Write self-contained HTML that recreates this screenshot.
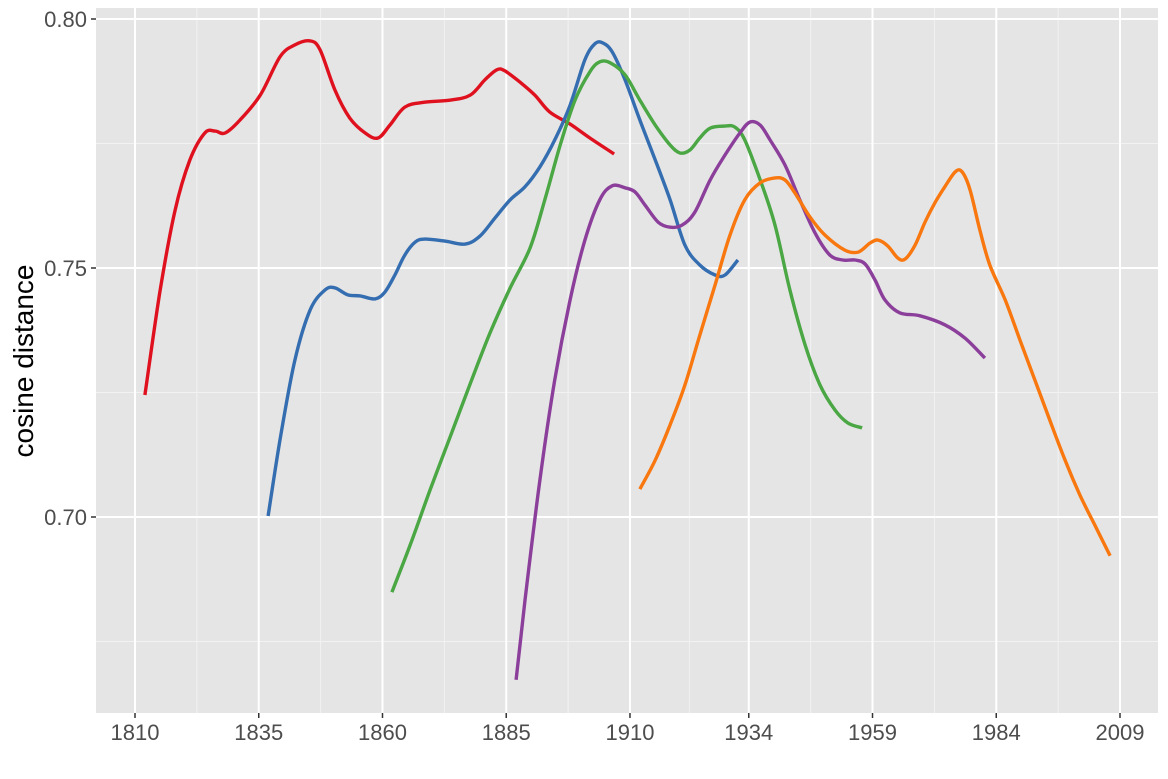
<!DOCTYPE html>
<html><head><meta charset="utf-8">
<style>
html,body{margin:0;padding:0;background:#fff;}
svg{display:block;font-family:"Liberation Sans",sans-serif;}
</style></head>
<body>
<svg id="chart" width="1168" height="779" xmlns="http://www.w3.org/2000/svg">
<rect x="96" y="8" width="1062" height="705" fill="#e5e5e5"/>
<g id="grid"></g>
<g id="series"></g>
<g id="axes"></g>
<text transform="translate(33,361) rotate(-90)" text-anchor="middle" font-size="28" fill="#000">cosine distance</text>
</svg>
<script>
const xTicks = [1810,1835,1860,1885,1910,1934,1959,1984,2009];
const yTicks = [0.70,0.75,0.80];
const yTickLabels = ["0.70","0.75","0.80"];
const yMinor = [0.675,0.725,0.775];
const redYears = [1812.0,1815.1,1818.1,1821.1,1824.1,1826.2,1828.2,1831.2,1835.3,1839.3,1842.3,1845.4,1847.4,1850.4,1853.4,1856.5,1859.1,1861.5,1864.5,1868.5,1873.6,1877.7,1880.7,1883.1,1884.7,1887.8,1890.8,1893.8,1897.9,1901.9,1906.8];
const redValues = [0.7245,0.7456,0.7616,0.7717,0.7771,0.7775,0.7771,0.7797,0.7847,0.7924,0.7948,0.7956,0.7938,0.7857,0.7801,0.7771,0.7761,0.7787,0.7823,0.7833,0.7837,0.7847,0.7878,0.7898,0.7896,0.7873,0.7847,0.7813,0.7789,0.7761,0.7729];
const blueYears = [1836.9,1839.3,1842.3,1845.4,1848.4,1850.4,1853.0,1855.5,1858.5,1860.5,1862.5,1864.5,1866.6,1868.6,1872.6,1876.7,1879.7,1882.7,1885.8,1888.8,1891.8,1894.8,1897.9,1900.9,1902.9,1904.5,1906.4,1909.0,1912.0,1915.1,1918.1,1921.1,1924.1,1927.2,1929.2,1931.8];
const blueValues = [0.7002,0.7155,0.7315,0.7416,0.7456,0.7460,0.7446,0.7444,0.7438,0.7452,0.7486,0.7526,0.7552,0.7558,0.7554,0.7548,0.7564,0.7600,0.7637,0.7663,0.7703,0.7757,0.7827,0.7918,0.7950,0.7952,0.7934,0.7878,0.7797,0.7717,0.7637,0.7546,0.7506,0.7486,0.7486,0.7516];
const greenYears = [1861.9,1865.6,1869.6,1873.6,1877.7,1881.7,1885.8,1889.8,1892.8,1895.9,1898.9,1901.9,1903.9,1906.0,1909.0,1912.0,1915.1,1918.1,1920.1,1922.1,1924.1,1926.2,1929.2,1931.2,1933.2,1936.3,1939.3,1942.3,1945.4,1948.4,1951.4,1954.0,1956.9];
const greenValues = [0.6849,0.6944,0.7054,0.7159,0.7267,0.7369,0.7460,0.7540,0.7637,0.7747,0.7837,0.7894,0.7914,0.7912,0.7888,0.7837,0.7787,0.7747,0.7731,0.7737,0.7761,0.7781,0.7785,0.7783,0.7757,0.7677,0.7586,0.7456,0.7345,0.7265,0.7215,0.7189,0.7179];
const purpleYears = [1887.0,1888.8,1891.8,1894.8,1897.9,1900.9,1903.9,1906.4,1909.0,1911.0,1913.0,1915.7,1918.1,1920.5,1923.1,1926.2,1929.2,1932.2,1934.2,1936.3,1938.3,1941.3,1944.3,1947.4,1950.4,1953.0,1955.5,1957.5,1959.5,1961.5,1964.5,1968.6,1973.6,1977.7,1981.7];
const purpleValues = [0.6673,0.6833,0.7074,0.7275,0.7436,0.7556,0.7637,0.7665,0.7661,0.7653,0.7627,0.7592,0.7582,0.7586,0.7612,0.7677,0.7727,0.7771,0.7793,0.7787,0.7757,0.7707,0.7637,0.7570,0.7526,0.7516,0.7516,0.7508,0.7476,0.7436,0.7410,0.7404,0.7386,0.7359,0.7319];
const orangeYears = [1912.0,1915.1,1918.1,1921.1,1924.1,1927.2,1930.2,1933.2,1936.3,1939.3,1941.3,1943.3,1946.4,1949.4,1953.4,1956.1,1958.5,1960.1,1962.1,1964.1,1965.6,1967.6,1969.6,1971.6,1973.6,1975.7,1977.1,1978.7,1980.7,1982.7,1985.8,1988.8,1991.8,1994.8,1997.9,2000.9,2003.9,2007.0];
const orangeValues = [0.7056,0.7114,0.7185,0.7265,0.7365,0.7466,0.7566,0.7637,0.7671,0.7681,0.7677,0.7651,0.7602,0.7566,0.7536,0.7532,0.7550,0.7556,0.7544,0.7520,0.7518,0.7546,0.7592,0.7631,0.7663,0.7693,0.7693,0.7657,0.7576,0.7506,0.7436,0.7355,0.7275,0.7195,0.7114,0.7044,0.6984,0.6922];

const NS="http://www.w3.org/2000/svg";
const L=96,R=1158,T=8,B=713;
function xs(yr){return 135+(yr-1810)*(1120-135)/199;}
function ys(v){return 19+(0.80-v)*4980;}
function mk(tag,attrs,parent){const e=document.createElementNS(NS,tag);for(const k in attrs)e.setAttribute(k,attrs[k]);parent.appendChild(e);return e;}
const grid=document.getElementById('grid'),axes=document.getElementById('axes'),ser=document.getElementById('series');
for(let i=0;i<xTicks.length-1;i++){
  const x=(xs(xTicks[i])+xs(xTicks[i+1]))/2;
  const g=mk('line',{x1:x,x2:x,y1:T,y2:B,stroke:'#f2f2f2','stroke-width':1},grid);
  
  
}
yMinor.forEach(v=>{
  const g=mk('line',{x1:L,x2:R,y1:ys(v),y2:ys(v),stroke:'#f2f2f2','stroke-width':1},grid);
  
  
});
xTicks.forEach(t=>{
  const x=xs(t);
  const g=mk('line',{x1:x,x2:x,y1:T,y2:B,stroke:'#fff','stroke-width':2},grid);
  
  
  const tk=mk('line',{x1:x,x2:x,y1:B,y2:B+5,stroke:'#333','stroke-width':1.5},axes);
  
  
  const lb=mk('text',{x:x,y:B+27,'text-anchor':'middle','font-size':22,fill:'#4d4d4d'},axes);
  lb.textContent=t;
  
  
});
yTicks.forEach((v,i)=>{
  const y=ys(v);
  const g=mk('line',{x1:L,x2:R,y1:y,y2:y,stroke:'#fff','stroke-width':2},grid);
  
  
  const tk=mk('line',{x1:L-5,x2:L,y1:y,y2:y,stroke:'#333','stroke-width':1.5},axes);
  
  
  const lb=mk('text',{x:L-9,y:y+8,'text-anchor':'end','font-size':22,fill:'#4d4d4d'},axes);
  lb.textContent=yTickLabels[i];
  
  
});
function smooth(px){
  let d='M'+px[0][0].toFixed(1)+','+px[0][1].toFixed(1);
  for(let i=0;i<px.length-1;i++){
    const p0=px[Math.max(0,i-1)],p1=px[i],p2=px[i+1],p3=px[Math.min(px.length-1,i+2)];
    const c1=[p1[0]+(p2[0]-p0[0])/6,p1[1]+(p2[1]-p0[1])/6];
    const c2=[p2[0]-(p3[0]-p1[0])/6,p2[1]-(p3[1]-p1[1])/6];
    d+=' C'+c1[0].toFixed(1)+','+c1[1].toFixed(1)+' '+c2[0].toFixed(1)+','+c2[1].toFixed(1)+' '+p2[0].toFixed(1)+','+p2[1].toFixed(1);
  }
  return d;
}
const seriesList=[
  ['red',redYears,redValues,'#e0111f'],
  ['blue',blueYears,blueValues,'#346db0'],
  ['green',greenYears,greenValues,'#4aa744'],
  ['purple',purpleYears,purpleValues,'#8b3f9b'],
  ['orange',orangeYears,orangeValues,'#f8770f']
];
seriesList.forEach(s=>{
  const pts=s[1].map((yr,i)=>[xs(yr),ys(s[2][i])]);
  const p=mk('path',{d:smooth(pts),fill:'none',stroke:s[3],'stroke-width':3.4,'stroke-linejoin':'round'},ser);
  
  
});
</script>
</body></html>
